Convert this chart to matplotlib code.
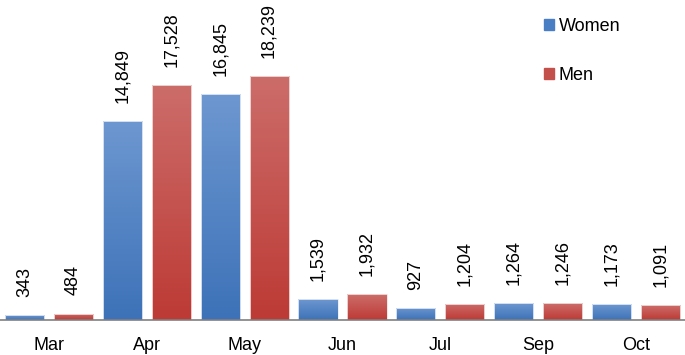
import numpy as np
import matplotlib.pyplot as plt
from matplotlib.colors import LinearSegmentedColormap

plt.rcParams['font.family'] = ['Liberation Sans', 'DejaVu Sans']

months = ["Mar", "Apr", "May", "Jun", "Jul", "Sep", "Oct"]
women = [343, 14849, 16845, 1539, 927, 1264, 1173]
men = [484, 17528, 18239, 1932, 1204, 1246, 1091]

BLUE_TOP = "#6d97d0"
BLUE_BOT = "#3d72b8"
RED_TOP = "#cc6d6a"
RED_BOT = "#bd3a35"


def gradient_fill(ax, bars, top, bottom):
    # paint each bar with a vertical gradient, lighter at the top
    cmap = LinearSegmentedColormap.from_list("g", [bottom, top])
    grad = np.linspace(0, 1, 256).reshape(-1, 1)
    for b in bars:
        x0, y0 = b.get_x(), b.get_y()
        w, h = b.get_width(), b.get_height()
        im = ax.imshow(grad, cmap=cmap, aspect='auto', origin='lower',
                       extent=[x0, x0 + w, y0, y0 + h], zorder=2)
        im.set_clip_path(b)


fig = plt.figure(figsize=(6.85, 3.55), dpi=100)
ax = fig.add_axes([0.0, 35 / 355, 1.0, 320 / 355])

x = np.arange(len(months))
bw = 0.4
bars_w = ax.bar(x - 0.25, women, bw, color="none", edgecolor="#e8eef7", linewidth=0.6, zorder=3)
bars_m = ax.bar(x + 0.25, men, bw, color="none", edgecolor="#f3e4e3", linewidth=0.6, zorder=3)
gradient_fill(ax, bars_w, BLUE_TOP, BLUE_BOT)
gradient_fill(ax, bars_m, RED_TOP, RED_BOT)

for bars, vals in ((bars_w, women), (bars_m, men)):
    for b, v in zip(bars, vals):
        ax.annotate(f"{v:,}", (b.get_x() + b.get_width() / 2, v),
                    xytext=(0, 13), textcoords="offset points",
                    rotation=90, ha="center", va="bottom", fontsize=13)

ax.set_xlim(-0.5, 6.5)
ax.set_ylim(0, 23900)
ax.set_xticks(x)
ax.set_xticklabels(months, fontsize=13)
ax.tick_params(axis="x", length=0, pad=12)
ax.set_yticks([])
for s in ("top", "right", "left"):
    ax.spines[s].set_visible(False)
ax.spines["bottom"].set_color("#808080")
ax.spines["bottom"].set_linewidth(1.2)
ax.spines["bottom"].set_zorder(4)

# legend: small squares with big gaps between entries
handles = [plt.Rectangle((0, 0), 1, 1, color="#4a7ec4"),
           plt.Rectangle((0, 0), 1, 1, color="#c4504c")]
ax.legend(handles, ["Women", "Men"], loc="upper left",
          bbox_to_anchor=(544 / 685, 1.0 - 18 / 320), frameon=False,
          fontsize=13, handlelength=0.55, handleheight=0.55,
          handletextpad=0.25, labelspacing=1.75, borderaxespad=0, borderpad=0)

fig.savefig("out.png", dpi=100)
